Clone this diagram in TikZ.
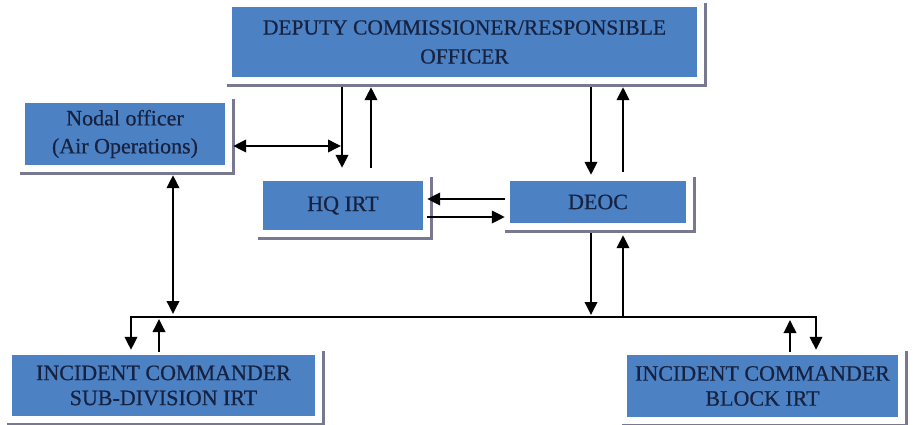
\documentclass[tikz,border=0pt]{standalone}
\usepackage{fontspec}
\setmainfont{Liberation Serif}[FakeBold=0.5]
\usetikzlibrary{arrows.meta,calc,backgrounds}
\definecolor{boxblue}{RGB}{76,129,196}
\definecolor{boxtext}{RGB}{22,34,64}
\definecolor{shade}{RGB}{120,120,145}
\begin{document}
\begin{tikzpicture}[x=1pt,y=-1pt,
  box/.style={fill=boxblue,text=boxtext,align=center,inner sep=0pt,
    font=\fontsize{22}{25}\selectfont},
  link/.style={line width=1.9pt,draw=black},
  arr/.style={link,-{Triangle[length=13pt,width=12.5pt]}},
  darr/.style={link,{Triangle[length=13pt,width=12.5pt]}-{Triangle[length=13pt,width=12.5pt]}},
  shadowline/.style={draw=shade,line width=3pt}]
\useasboundingbox (0,0) rectangle (913,425);

% boxes
\node[box,minimum width=465pt,minimum height=70pt,font=\fontsize{21.5}{29}\selectfont]
  (dc) at (464.5,42) {DEPUTY COMMISSIONER/RESPONSIBLE\\OFFICER};
\node[box,minimum width=200pt,minimum height=62pt,font=\fontsize{22}{28}\selectfont]
  (nodal) at (125,134) {Nodal officer\\(Air Operations)};
\node[box,minimum width=160pt,minimum height=49pt] (hq) at (343,205.5) {HQ IRT};
\node[box,minimum width=176pt,minimum height=42pt] (deoc) at (598,202) {DEOC};
\node[box,minimum width=303pt,minimum height=61pt] (icsd) at (163.5,385.5)
  {INCIDENT COMMANDER\\SUB-DIVISION IRT};
\node[box,minimum width=271pt,minimum height=62pt] (icb) at (762.5,386)
  {INCIDENT COMMANDER\\BLOCK IRT};

% grey drop shadow along the bottom and right of every box
\begin{scope}[on background layer]
\foreach \n in {dc,nodal,hq,deoc,icsd,icb}{
  \draw[shadowline] ($(\n.south west)+(-5,8.5)$) -- ($(\n.south east)+(8.5,8.5)$)
    -- ($(\n.north east)+(8.5,-4)$);
}
\end{scope}

% connector columns
\coordinate (xa) at (342,0);
\coordinate (xb) at (371,0);
\coordinate (xc) at (591,0);
\coordinate (xd) at (623,0);
\coordinate (xn) at (173,0);
\coordinate (xl) at (131,0);
\coordinate (xr) at (816,0);
\coordinate (xu) at (159,0);
\coordinate (xv) at (790,0);
\coordinate (bus) at (464,317);

% deputy commissioner <-> HQ IRT
\draw[arr] ($(dc.south -| xa)+(0,10)$) -- ($(hq.north -| xa)+(0,-13)$);
\draw[arr] ($(hq.north -| xb)+(0,-13)$) -- ($(dc.south -| xb)+(0,10)$);
% deputy commissioner <-> DEOC
\draw[arr] ($(dc.south -| xc)+(0,10)$) -- ($(deoc.north -| xc)+(0,-6)$);
\draw[arr] ($(deoc.north -| xd)+(0,-9)$) -- ($(dc.south -| xd)+(0,10)$);
% nodal officer <-> HQ line
\draw[darr] ($(nodal.east)+(8,12)$) -- ($(nodal.east -| xa)+(-1,12)$);
% DEOC <-> HQ IRT
\draw[arr] ($(deoc.west)+(-5,-3)$) -- ($(deoc.west -| hq.east)+(4,-3)$);
\draw[arr] ($(deoc.west -| hq.east)+(4,15)$) -- ($(deoc.west)+(-5,15)$);
% DEOC <-> bus
\draw[arr] ($(deoc.south -| xc)+(0,10)$) -- ($(bus -| xc)+(0,-2)$);
\draw[arr] (bus -| xd) -- ($(deoc.south -| xd)+(0,12)$);
% nodal officer <-> bus
\draw[darr] ($(nodal.south -| xn)+(0,10)$) -- ($(bus -| xn)+(0,-3)$);
% bus down to the incident commanders
\draw[darr] ($(icsd.north -| xl)+(0,-5)$) |- (bus) -| ($(icb.north -| xr)+(0,-5)$);
% incident commanders up to the bus
\draw[arr] ($(icsd.north -| xu)+(0,-3)$) -- ($(bus -| xu)+(0,2)$);
\draw[arr] ($(icb.north -| xv)+(0,-3)$) -- ($(bus -| xv)+(0,3)$);
\end{tikzpicture}
\end{document}
